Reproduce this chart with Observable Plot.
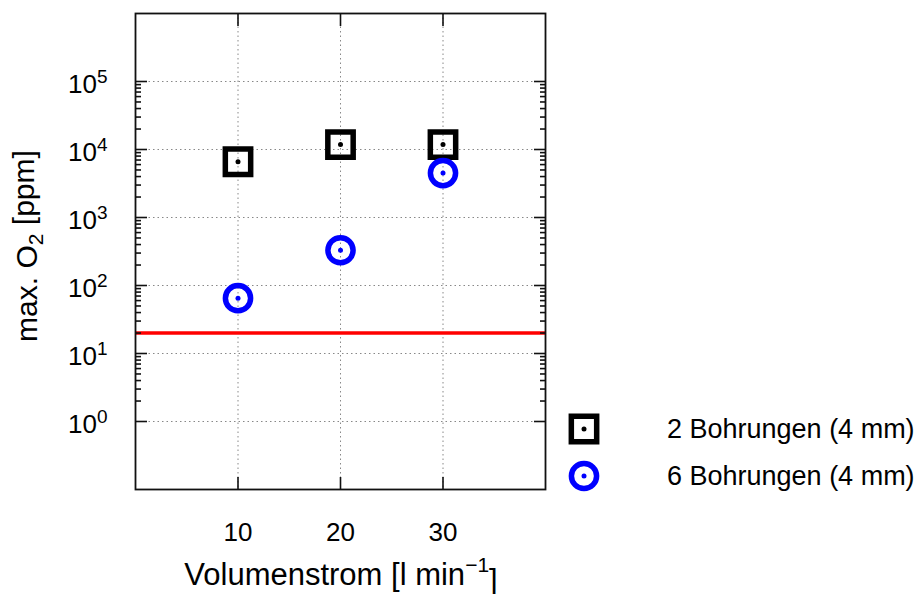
<!DOCTYPE html>
<html>
<head>
<meta charset="utf-8">
<script src="https://cdn.jsdelivr.net/npm/d3@7"></script>
<script src="https://cdn.jsdelivr.net/npm/@observablehq/plot@0.6"></script>
<style>
  html, body { margin: 0; padding: 0; background: #fff; }
  #chart svg { display: block; }
</style>
</head>
<body>
<div id="chart"></div>
<script>
// ---- data ----
const volumes = [10, 20, 30];                 // Volumenstrom [l/min]
const o2TwoHoles = [6600, 11800, 11800];      // max. O2 [ppm], 2 Bohrungen (4 mm)
const o2SixHoles = [65, 330, 4500];           // max. O2 [ppm], 6 Bohrungen (4 mm)
const limitPpm = 20;                          // red limit line
const seriesNames = ["2 Bohrungen (4 mm)", "6 Bohrungen (4 mm)"];
const xTicks = [10, 20, 30];
const yMajorTicks = [1, 10, 100, 1000, 10000, 100000];
const yMinorTicks = [];
for (let e = 0; e <= 4; e++) for (let k = 2; k <= 9; k++) yMinorTicks.push(k * Math.pow(10, e));

const twoData = volumes.map((v, i) => ({x: v, y: o2TwoHoles[i]}));
const sixData = volumes.map((v, i) => ({x: v, y: o2SixHoles[i]}));

const FONT = "'Liberation Sans', Arial, Helvetica, sans-serif";
const gridStyle = {stroke: "#888", strokeOpacity: 1, strokeWidth: 1, strokeDasharray: "1.5,3"};
const tickStyle = {stroke: "#111", strokeWidth: 1.6, tickFormat: () => "", label: null};
const SQ_R = 14.3, CI_R = 12.6, MARK_W = 5.5;

const plot = Plot.plot({
  width: 922,
  height: 594,
  marginLeft: 135,
  marginRight: 377,
  marginTop: 13,
  marginBottom: 105,
  style: {fontFamily: FONT, fontSize: "25px", color: "#000", background: "#fff", overflow: "visible"},
  x: {domain: [0, 40]},
  y: {type: "log", domain: [0.1, 1e6]},
  marks: [
    Plot.gridX(xTicks, gridStyle),
    Plot.gridY(yMajorTicks, gridStyle),
    Plot.ruleY([limitPpm], {stroke: "#ff0000", strokeWidth: 3.5}),
    // inward ticks on all four sides
    Plot.axisX(xTicks, {anchor: "bottom", tickSize: -12, ...tickStyle}),
    Plot.axisX(xTicks, {anchor: "top", tickSize: -12, ...tickStyle}),
    Plot.axisY(yMajorTicks, {anchor: "left", tickSize: -12, ...tickStyle}),
    Plot.axisY(yMajorTicks, {anchor: "right", tickSize: -12, ...tickStyle}),
    Plot.axisY(yMinorTicks, {anchor: "left", tickSize: -6, ...tickStyle}),
    Plot.axisY(yMinorTicks, {anchor: "right", tickSize: -6, ...tickStyle}),
    // tick labels
    Plot.axisX(xTicks, {anchor: "bottom", tickSize: 0, tickPadding: 33, label: null, fontSize: 26}),
    Plot.axisY(yMajorTicks, {anchor: "left", tickSize: 0, tickPadding: 28, label: null, fontSize: 26,
      dy: 3, tickFormat: d => String(Math.round(Math.log10(d)))}),
    Plot.frame({stroke: "#111", strokeWidth: 1.8}),
    // markers
    Plot.dot(twoData, {x: "x", y: "y", symbol: "square", r: SQ_R, stroke: "#000", strokeWidth: MARK_W, fill: "none"}),
    Plot.dot(twoData, {x: "x", y: "y", r: 2.5, fill: "#000", stroke: "none"}),
    Plot.dot(sixData, {x: "x", y: "y", symbol: "circle", r: CI_R, stroke: "#0000ff", strokeWidth: MARK_W, fill: "none"}),
    Plot.dot(sixData, {x: "x", y: "y", r: 2.5, fill: "#0000ff", stroke: "none"})
  ]
});

document.getElementById("chart").appendChild(plot);
const svg = d3.select(plot);

// remove empty tick-label texts of the tick-only axes
svg.selectAll('g[aria-label$="tick label"] text').each(function() {
  if (d3.select(this).text() === "") d3.select(this).remove();
});

// y tick labels as 10^n with superscripts
svg.selectAll('g[aria-label="y-axis tick label"] text').each(function() {
  const t = d3.select(this);
  const exp = t.text();
  if (exp === "") return;
  t.text("10");
  t.append("tspan").attr("dy", "-0.5em").attr("font-size", "19px").text(exp);
});

// axis titles
const yLab = svg.append("text")
  .attr("transform", "translate(37,246) rotate(-90)")
  .attr("text-anchor", "middle")
  .attr("font-family", FONT).attr("font-size", 30).attr("fill", "#000");
yLab.append("tspan").text("max. O");
yLab.append("tspan").attr("font-size", 21).attr("dy", "0.3em").text("2");
yLab.append("tspan").attr("dy", "-0.3em").text(" [ppm]");

const xLab = svg.append("text")
  .attr("x", 341).attr("y", 585)
  .attr("text-anchor", "middle")
  .attr("font-family", FONT).attr("font-size", 31).attr("fill", "#000");
xLab.append("tspan").text("Volumenstrom [l min");
xLab.append("tspan").attr("font-size", 21).attr("dy", "-0.6em").text("\u22121");
xLab.append("tspan").attr("dy", "0.6em").text("]");

// legend
const leg = svg.append("g").attr("font-family", FONT).attr("font-size", 27).attr("text-anchor", "start");
const legItems = [
  {name: seriesNames[0], color: "#000", shape: d3.symbolSquare, size: Math.PI * SQ_R * SQ_R, y: 429},
  {name: seriesNames[1], color: "#0000ff", shape: d3.symbolCircle, size: Math.PI * CI_R * CI_R, y: 476}
];
legItems.forEach(it => {
  const g = leg.append("g").attr("transform", `translate(584,${it.y})`);
  g.append("path").attr("d", d3.symbol(it.shape, it.size)())
    .attr("fill", "none").attr("stroke", it.color).attr("stroke-width", MARK_W);
  g.append("circle").attr("r", 2.5).attr("fill", it.color);
  leg.append("text").attr("x", 667).attr("y", it.y).attr("dy", "0.35em")
    .attr("text-anchor", "start").attr("fill", "#000").text(it.name);
});
</script>
</body>
</html>
